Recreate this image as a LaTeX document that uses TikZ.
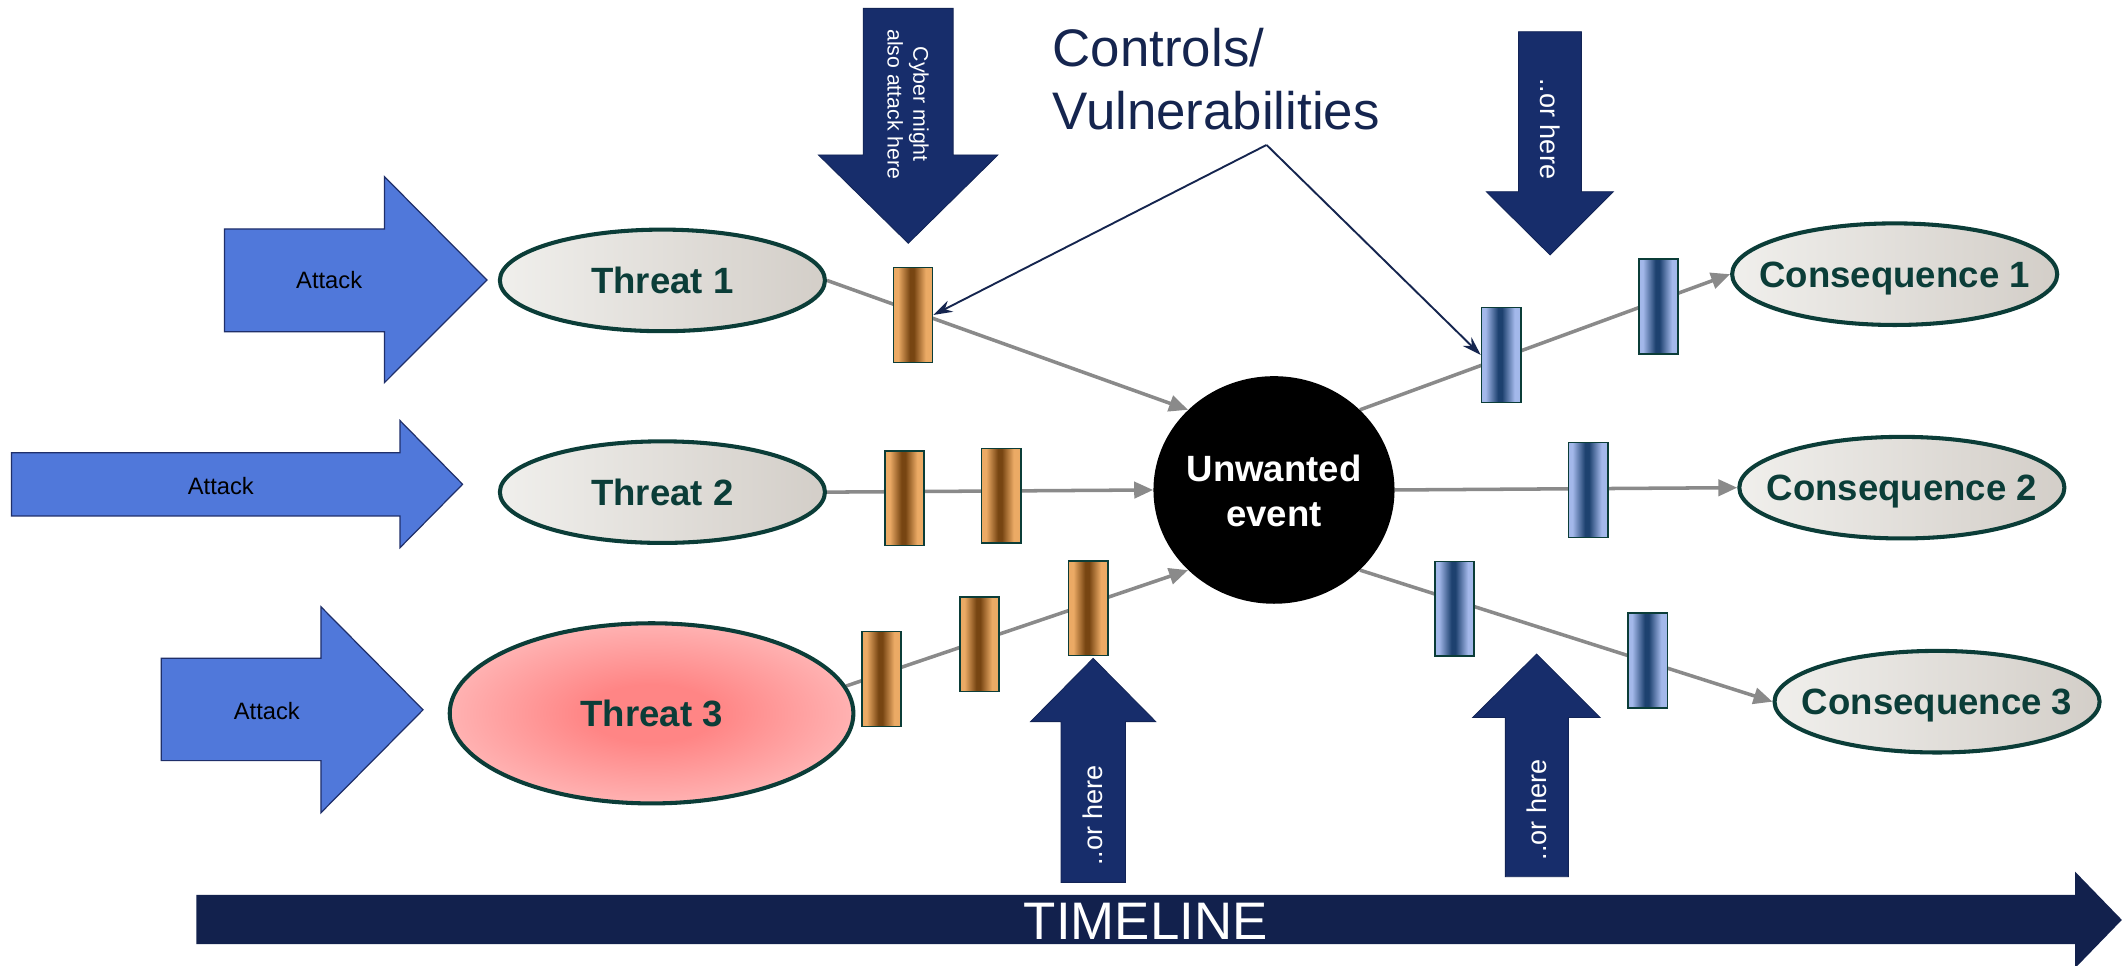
\documentclass[tikz,border=0pt]{standalone}
\usepackage{fontspec}
\setmainfont{Liberation Sans}
\usetikzlibrary{shapes.geometric,arrows.meta,backgrounds}
\definecolor{navyA}{HTML}{172D6B}
\definecolor{navyT}{HTML}{12214D}
\definecolor{ctrlc}{HTML}{15254F}
\definecolor{attackblue}{HTML}{5078DA}
\definecolor{attackedge}{HTML}{1F2F6A}
\definecolor{grayln}{HTML}{8A8A8A}
\definecolor{tealdk}{HTML}{0B3D38}
\definecolor{ellL}{HTML}{F0EFEC}
\definecolor{ellR}{HTML}{D3CEC8}
\definecolor{copL}{HTML}{EBAA65}
\definecolor{copD}{HTML}{774512}
\definecolor{bluL}{HTML}{A3B8EA}
\definecolor{bluD}{HTML}{1D416F}
\definecolor{redC}{HTML}{FF8585}
\definecolor{redO}{HTML}{FFD2D2}
\pgfdeclareradialshading{redglow}{\pgfpoint{0bp}{0bp}}{color(0bp)=(redC); color(8bp)=(redC); color(24bp)=(redC!45!redO); color(36bp)=(redO); color(50bp)=(redO)}
\pgfdeclarehorizontalshading{coppershade}{100bp}{color(0bp)=(copL); color(31bp)=(copL); color(46bp)=(copD); color(51bp)=(copD); color(66bp)=(copL); color(100bp)=(copL)}
\pgfdeclarehorizontalshading{blueshade}{100bp}{color(0bp)=(bluL); color(30bp)=(bluL); color(46bp)=(bluD); color(51bp)=(bluD); color(67bp)=(bluL); color(100bp)=(bluL)}
\tikzset{
  ell/.style={ellipse, draw=tealdk, line width=3pt, inner sep=0pt, text=tealdk,
    font=\fontsize{27}{32}\selectfont\bfseries, text height=19.3pt, text depth=0pt},
  thr/.style={ell, left color=ellL, right color=ellR, minimum width=240pt, minimum height=75pt},
  copbox/.style={rectangle, draw=tealdk, line width=1.2pt, minimum width=29pt, minimum height=70pt,
    inner sep=0pt, shading=coppershade},
  blubox/.style={rectangle, draw=tealdk, line width=1.2pt, minimum width=29pt, minimum height=70pt,
    inner sep=0pt, shading=blueshade},
  gline/.style={draw=grayln, line width=2.6pt, -{Triangle[length=14pt,width=12pt]}},
  ctrlarrow/.style={draw=ctrlc, line width=1.4pt, -{Stealth[length=14pt,width=9pt]}},
  attack/.style={fill=attackblue, draw=attackedge, line width=0.9pt},
  navyarrow/.style={fill=navyA, draw=navyA!80!black, line width=0.6pt},
  lbl/.style={text=white, inner sep=0pt},
  attlbl/.style={inner sep=0pt, text=black, font=\fontsize{17.5}{21}\selectfont},
  orhere/.style={lbl, font=\fontsize{20}{24}\selectfont},
}
\begin{document}
\begin{tikzpicture}[x=1pt,y=-1pt]
\useasboundingbox (0,0) rectangle (1568,713);

% threats
\node[thr] (t1) at (489,207) {\makebox[0pt]{Threat 1}};
\node[thr] (t2) at (489,363.3) {\makebox[0pt]{Threat 2}};
\node[ell, shading=redglow, minimum width=298pt, minimum height=133pt] (t3) at (481,526.6) {\makebox[0pt]{Threat 3}};

% unwanted event
\node[ellipse, fill=black, inner sep=0pt, minimum width=178pt, minimum height=168pt] (ev) at (940.5,361.7) {};
\node[lbl, align=center, font=\fontsize{27}{33}\selectfont\bfseries] (evl) at (940.5,362.3) {Unwanted\\event};

% consequences
\node[thr] (c1) at (1398.7,202.4) {\makebox[0pt]{Consequence 1}};
\node[thr] (c2) at (1404,360) {\makebox[0pt]{Consequence 2}};
\node[thr] (c3) at (1430,518) {\makebox[0pt]{Consequence 3}};

% controls (copper)
\node[copbox] (k1) at (674,232.5) {};
\node[copbox] (k2) at (667.8,367.8) {};
\node[copbox] (k3) at (739,366) {};
\node[copbox] (k4) at (650.8,501.3) {};
\node[copbox] (k5) at (723,475.5) {};
\node[copbox] (k6) at (803.4,449) {};

% controls (blue)
\node[blubox] (b1) at (1108.2,262) {};
\node[blubox] (b2) at (1224.4,226.4) {};
\node[blubox] (b3) at (1172.4,361.7) {};
\node[blubox] (b4) at (1073.8,449.4) {};
\node[blubox] (b5) at (1216.5,487.7) {};

\begin{pgfonlayer}{background}
  \fill[white] (0,0) rectangle (1568,713);
  \draw[gline] (t1.east) -- (ev.137);
  \draw[gline] (t2.east) -- (ev.west);
  \draw[gline] (t3.8) -- (ev.223);
  \draw[gline] (ev.43) -- (c1.west);
  \draw[gline] (ev.east) -- (c2.west);
  \draw[gline] (ev.317) -- (c3.west);
\end{pgfonlayer}

% attack arrows
\draw[attack] (165.8,169) -- (283.8,169) -- (283.8,130.4) -- (359.5,206.7) -- (283.8,282.5) -- (283.8,244.9) -- (165.8,244.9) -- cycle;
\node[attlbl] (a1) at (243,207) {Attack};
\draw[attack] (8.5,334.2) -- (295.3,334.2) -- (295.3,310.5) -- (341.5,357.5) -- (295.3,404.3) -- (295.3,380.9) -- (8.5,380.9) -- cycle;
\node[attlbl] (a2) at (163,358.8) {Attack};
\draw[attack] (119,486) -- (236.9,486) -- (236.9,447.9) -- (312.3,524) -- (236.9,600) -- (236.9,561.5) -- (119,561.5) -- cycle;
\node[attlbl] (a3) at (197,524.6) {Attack};

% cyber arrow
\draw[navyarrow] (637.2,6.2) -- (703.6,6.2) -- (703.6,114.4) -- (736.7,114.4) -- (670.5,179.6) -- (604.2,114.4) -- (637.2,114.4) -- cycle;
\node[lbl, rotate=-90, align=center, font=\fontsize{15.7}{19}\selectfont] (cyb) at (670.4,77) {Cyber might\\also attack here};

% or here arrows
\draw[navyarrow] (1121,23.4) -- (1167.4,23.4) -- (1167.4,141.5) -- (1191,141.5) -- (1144.3,188.2) -- (1097.2,141.5) -- (1121,141.5) -- cycle;
\node[orhere, rotate=-90] (oh1) at (1144.2,95) {..or here};
\draw[navyarrow] (783.3,651.4) -- (830.8,651.4) -- (830.8,532.7) -- (853.2,532.7) -- (807,486) -- (760.8,532.7) -- (783.3,532.7) -- cycle;
\node[orhere, rotate=90] (oh2) at (807,602) {..or here};
\draw[navyarrow] (1111.3,647.2) -- (1157.8,647.2) -- (1157.8,529.6) -- (1181.2,529.6) -- (1134.4,482.8) -- (1087.2,529.6) -- (1111.3,529.6) -- cycle;
\node[orhere, rotate=90] (oh3) at (1134.5,598) {..or here};

% controls / vulnerabilities
\node[anchor=north west, inner sep=0pt, align=left, text=ctrlc, font=\fontsize{39}{47}\selectfont] (ctl) at (777,20.5) {Controls/\\Vulnerabilities};
\coordinate (apex) at (935,107);
\draw[ctrlarrow] (apex) -- (k1.east);
\draw[ctrlarrow] (apex) -- (b1.west);

% timeline
\fill[navyT] (145,660.7) -- (1531.9,660.7) -- (1531.9,643.5) -- (1566.4,679.1) -- (1531.9,714.7) -- (1531.9,697) -- (145,697) -- cycle;
\node[lbl, font=\fontsize{39}{47}\selectfont] (tl) at (845.8,679.8) {TIMELINE};
\end{tikzpicture}
\end{document}
